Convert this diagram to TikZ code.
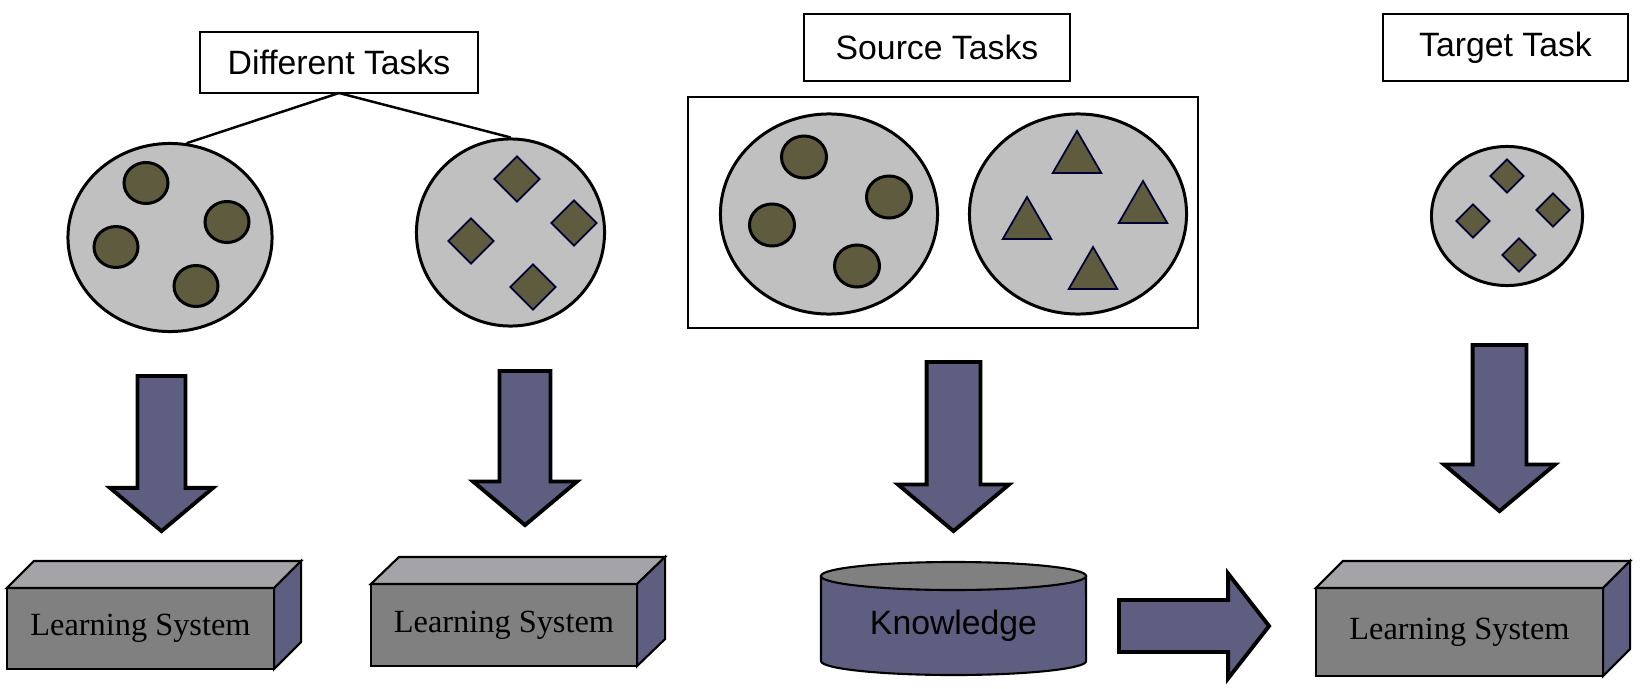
\documentclass[tikz,border=0pt]{standalone}
\usepackage{fontspec}
\setmainfont{Liberation Serif}
\setsansfont{Liberation Sans}
\usepackage{tikz}
\usetikzlibrary{shapes.geometric, shapes.arrows}
\definecolor{mypool}{RGB}{192,192,192}
\definecolor{myoliv}{RGB}{94,91,63}
\definecolor{myslat}{RGB}{94,94,128}
\definecolor{mygri1}{RGB}{128,128,128}
\definecolor{mygri2}{RGB}{163,163,168}
\tikzstyle{tasklabel} = [rectangle, draw=black, line width=0.7pt, fill=white, inner sep=0pt, outer sep=0pt, font=\sffamily\fontsize{9.6}{11}\selectfont]
\tikzstyle{frame} = [rectangle, draw=black, line width=0.5pt, inner sep=0pt]
\tikzstyle{pool} = [ellipse, draw=black, line width=0.85pt, fill=mypool, inner sep=0pt]
\tikzstyle{roundpt} = [ellipse, draw=black, line width=0.85pt, fill=myoliv, inner sep=0pt, minimum width=0.44cm, minimum height=0.41cm]
\tikzstyle{diampt} = [diamond, draw=black!80!blue, line width=0.5pt, fill=myoliv, inner sep=0pt]
\tikzstyle{tript} = [regular polygon, regular polygon sides=3, draw=black!80!blue, line width=0.5pt, fill=myoliv, inner sep=0pt, minimum size=0.56cm]
\tikzstyle{blockarrow} = [single arrow, draw=black, line width=1.1pt, fill=myslat, anchor=tail, inner xsep=0pt, outer sep=0pt, single arrow tip angle=100]
\tikzstyle{downarrow} = [blockarrow, rotate=-90]
\tikzstyle{learner} = [rectangle, draw=black, line width=0.6pt, fill=mygri1, inner sep=0pt, outer sep=0pt, font=\rmfamily\fontsize{9.2}{11}\selectfont]
\tikzstyle{topface} = [draw=black, line width=0.6pt, fill=mygri2]
\tikzstyle{sideface} = [draw=black, line width=0.6pt, fill=myslat]
\tikzstyle{tieline} = [line width=0.7pt, black]

\begin{document}
\begin{tikzpicture}[x=0.01cm, y=-0.01cm]
	\useasboundingbox (0,0) rectangle (1640,688);
	% task labels
	\node (dt)[tasklabel, minimum width=2.78cm, minimum height=0.61cm] at (339,62.5) {Different Tasks\hspace{0.1cm}};
	\node (st)[tasklabel, minimum width=2.66cm, minimum height=0.67cm] at (937,47.5) {Source Tasks};
	\node (tt)[tasklabel, minimum width=2.45cm, minimum height=0.67cm] at (1505.5,47.5) {Target Task\hspace{0.1cm}};
	% pools of examples
	\node (lp)[pool, minimum width=2.04cm, minimum height=1.88cm] at (170,237.5) {};
	\node (rp)[pool, minimum width=1.88cm, minimum height=1.87cm] at (510.5,232.5) {};
	\node (srcframe)[frame, minimum width=5.1cm, minimum height=2.31cm] at (943,212.5) {};
	\node (sp1)[pool, minimum width=2.17cm, minimum height=2.0cm] at (829,214) {};
	\node (sp2)[pool, minimum width=2.17cm, minimum height=2.0cm] at (1078,214) {};
	\node (tp)[pool, minimum width=1.51cm, minimum height=1.39cm] at (1507,216) {};
	\draw [tieline] (dt.south) -- (lp.80);
	\draw [tieline] (dt.south) -- (rp.north);
	% items
	\node (dotl1)[roundpt] at (146,183) {};
	\node (dotl2)[roundpt] at (227,222) {};
	\node (dotl3)[roundpt] at (116,247) {};
	\node (dotl4)[roundpt] at (196,286) {};
	\node (gemr1)[diampt, minimum width=0.46cm, minimum height=0.46cm] at (517,179) {};
	\node (gemr2)[diampt, minimum width=0.46cm, minimum height=0.46cm] at (574,223) {};
	\node (gemr3)[diampt, minimum width=0.46cm, minimum height=0.46cm] at (471,241) {};
	\node (gemr4)[diampt, minimum width=0.46cm, minimum height=0.46cm] at (533,287) {};
	\node (dots1)[roundpt, minimum width=0.45cm, minimum height=0.42cm] at (804,157) {};
	\node (dots2)[roundpt, minimum width=0.45cm, minimum height=0.42cm] at (889,197) {};
	\node (dots3)[roundpt, minimum width=0.45cm, minimum height=0.42cm] at (772,225) {};
	\node (dots4)[roundpt, minimum width=0.45cm, minimum height=0.42cm] at (857,266) {};
	\node (tris1)[tript] at (1077,159) {};
	\node (tris2)[tript] at (1143,209) {};
	\node (tris3)[tript] at (1027,225) {};
	\node (tris4)[tript] at (1093,275) {};
	\node (gemt1)[diampt, minimum width=0.34cm, minimum height=0.34cm] at (1507,176) {};
	\node (gemt2)[diampt, minimum width=0.34cm, minimum height=0.34cm] at (1553,210) {};
	\node (gemt3)[diampt, minimum width=0.34cm, minimum height=0.34cm] at (1473,221) {};
	\node (gemt4)[diampt, minimum width=0.34cm, minimum height=0.34cm] at (1519,255) {};
	% block arrows
	\node (arr1)[downarrow, minimum height=1.55cm, inner ysep=0.22cm, single arrow head extend=0.275cm] at (161.5,376) {};
	\node (arr2)[downarrow, minimum height=1.54cm, inner ysep=0.235cm, single arrow head extend=0.265cm] at (525,371) {};
	\node (arr3)[downarrow, minimum height=1.69cm, inner ysep=0.25cm, single arrow head extend=0.285cm] at (953.5,362) {};
	\node (arr4)[downarrow, minimum height=1.66cm, inner ysep=0.25cm, single arrow head extend=0.285cm] at (1499.5,345) {};
	\node (xfer)[blockarrow, minimum height=1.5cm, inner ysep=0.24cm, single arrow head extend=0.265cm, single arrow tip angle=104] at (1119,626) {};
	% learning systems
	\node (ls1)[learner, minimum width=2.67cm, minimum height=0.81cm] at (140.5,628.5) {Learning System};
	\draw [topface] (ls1.north west) -- ([shift={(27,-27)}]ls1.north west) -- ([shift={(27,-27)}]ls1.north east) -- (ls1.north east) -- cycle;
	\draw [sideface] (ls1.north east) -- ([shift={(27,-27)}]ls1.north east) -- ([shift={(27,-27)}]ls1.south east) -- (ls1.south east) -- cycle;
	\node (ls2)[learner, minimum width=2.66cm, minimum height=0.82cm] at (504,625) {Learning System};
	\draw [topface] (ls2.north west) -- ([shift={(28,-27)}]ls2.north west) -- ([shift={(28,-27)}]ls2.north east) -- (ls2.north east) -- cycle;
	\draw [sideface] (ls2.north east) -- ([shift={(28,-27)}]ls2.north east) -- ([shift={(28,-27)}]ls2.south east) -- (ls2.south east) -- cycle;
	\node (ls3)[learner, minimum width=2.87cm, minimum height=0.88cm] at (1459.5,632) {Learning System};
	\draw [topface] (ls3.north west) -- ([shift={(27,-27)}]ls3.north west) -- ([shift={(27,-27)}]ls3.north east) -- (ls3.north east) -- cycle;
	\draw [sideface] (ls3.north east) -- ([shift={(27,-27)}]ls3.north east) -- ([shift={(27,-27)}]ls3.south east) -- (ls3.south east) -- cycle;
	% knowledge store
	\draw [sideface] (821,576) -- (821,661) arc[start angle=180, end angle=360, x radius=1.325cm, y radius=0.14cm] -- (1086,576) -- cycle;
	\draw [topface, fill=mygri1] (953.5,576) ellipse [x radius=1.325cm, y radius=0.14cm];
	\node (know)[font=\sffamily\fontsize{9.6}{11}\selectfont] at (953.5,626) {Knowledge};
\end{tikzpicture}
\end{document}
